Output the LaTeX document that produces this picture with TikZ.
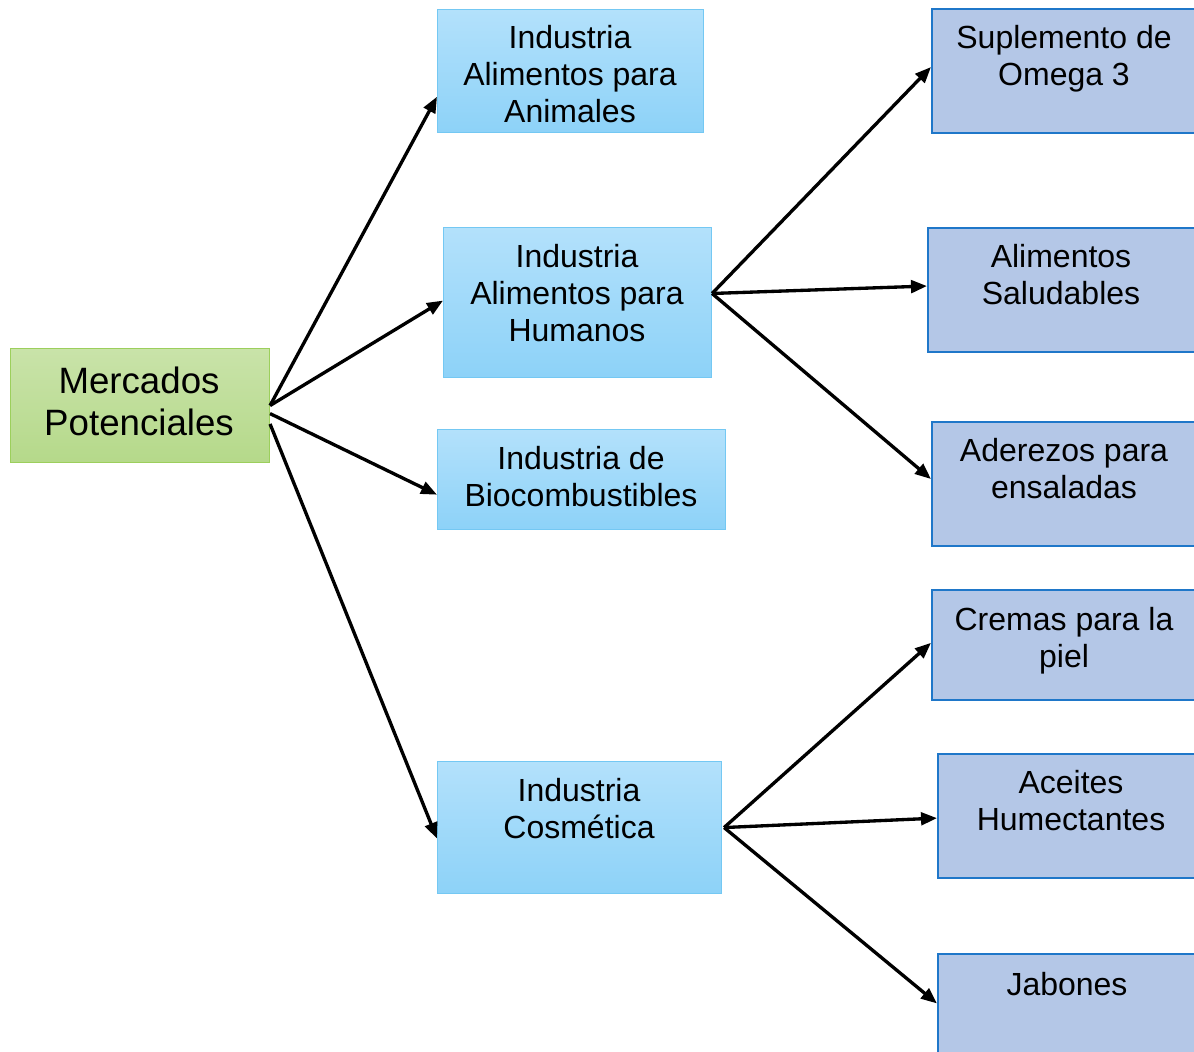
\documentclass[tikz,border=0pt]{standalone}
\usepackage{fontspec}
\setmainfont{Liberation Sans}
\usetikzlibrary{arrows.meta,calc}
\definecolor{grtop}{HTML}{C9E3A9}
\definecolor{grbot}{HTML}{B5D98A}
\definecolor{grline}{HTML}{9CCF5C}
\definecolor{bltop}{HTML}{B3E1FB}
\definecolor{blbot}{HTML}{8DD2F8}
\definecolor{blline}{HTML}{74C8F3}
\definecolor{pbfill}{HTML}{B4C7E7}
\definecolor{pbline}{HTML}{1F77C9}
\tikzset{
  greenbox/.style={draw=grline, line width=0.8pt, top color=grtop, bottom color=grbot, inner sep=0pt, anchor=north west},
  bluebox/.style={draw=blline, line width=0.8pt, top color=bltop, bottom color=blbot, inner sep=0pt, anchor=north west},
  prodbox/.style={draw=pbline, line width=1.6pt, fill=pbfill, inner sep=0pt, anchor=north west},
  txt/.style={align=center, inner sep=0pt, font=\fontsize{24}{27.75}\selectfont},
  bigtxt/.style={align=center, inner sep=0pt, font=\fontsize{27.5}{31.5}\selectfont},
  conn/.style={line width=2.5pt, -{Triangle[length=12pt,width=9.5pt]}}
}
\begin{document}
\begin{tikzpicture}[x=0.75pt,y=-0.75pt]
\clip (0,0) rectangle (1194,1051);
\fill[white] (0,0) rectangle (1194,1051);
% boxes
\node[greenbox, minimum width=259*0.75pt, minimum height=114*0.75pt] (merc) at (10,348) {};
\node[bluebox, minimum width=266*0.75pt, minimum height=123*0.75pt] (anim) at (437,9) {};
\node[bluebox, minimum width=268*0.75pt, minimum height=150*0.75pt] (hum) at (443,227) {};
\node[bluebox, minimum width=288*0.75pt, minimum height=100*0.75pt] (bio) at (437,429) {};
\node[bluebox, minimum width=284*0.75pt, minimum height=132*0.75pt] (cos) at (437,761) {};
\node[prodbox, minimum width=280*0.75pt, minimum height=124*0.75pt] (sup) at (931,8) {};
\node[prodbox, minimum width=284*0.75pt, minimum height=124*0.75pt] (sal) at (927,227) {};
\node[prodbox, minimum width=280*0.75pt, minimum height=124*0.75pt] (ade) at (931,421) {};
\node[prodbox, minimum width=280*0.75pt, minimum height=110*0.75pt] (cre) at (931,589) {};
\node[prodbox, minimum width=274*0.75pt, minimum height=124*0.75pt] (ace) at (937,753) {};
\node[prodbox, minimum width=274*0.75pt, minimum height=124*0.75pt] (jab) at (937,953) {};
% texts
\node[bigtxt] (tmerc) at (139,401) {Mercados\\Potenciales};
\node[txt] (tanim) at (570,74) {Industria\\Alimentos para\\Animales};
\node[txt] (thum) at (577,293) {Industria\\Alimentos para\\Humanos};
\node[txt] (tbio) at (581,477) {Industria de\\Biocombustibles};
\node[txt] (tcos) at (579,809) {Industria\\Cosmética};
\node[txt] (tsup) at (1064,59) {Suplemento de\\Omega 3};
\node[txt] (tsal) at (1061,275) {Alimentos\\Saludables};
\node[txt] (tade) at (1064,469) {Aderezos para\\ensaladas};
\node[txt] (tcre) at (1064,641) {Cremas para la\\piel};
\node[txt] (tace) at (1071,801) {Aceites\\Humectantes};
\node[txt] (tjab) at (1067,984) {Jabones};
% connectors
\draw[conn] ($(merc.north east)!0.50!(merc.south east)$) -- ($(anim.north west)!0.707!(anim.south west)$);
\draw[conn] ($(merc.north east)!0.50!(merc.south east)$) -- ($(hum.north west)!0.487!(hum.south west)$);
\draw[conn] ($(merc.north east)!0.57!(merc.south east)$) -- ($(bio.north west)!0.65!(bio.south west)$);
\draw[conn] ($(merc.north east)!0.66!(merc.south east)$) -- ($(cos.north west)!0.583!(cos.south west)$);
\draw[conn] ($(hum.north east)!0.44!(hum.south east)$) -- ($(sup.north west)!0.468!(sup.south west)$);
\draw[conn] ($(hum.north east)!0.44!(hum.south east)$) -- ($(sal.north west)!0.468!(sal.south west)$);
\draw[conn] ($(hum.north east)!0.44!(hum.south east)$) -- ($(ade.north west)!0.46!(ade.south west)$);
\draw[conn] ($(cos.east)+(2,0)$) -- ($(cre.north west)!0.48!(cre.south west)$);
\draw[conn] ($(cos.east)+(2,0)$) -- ($(ace.north west)!0.516!(ace.south west)$);
\draw[conn] ($(cos.east)+(2,0)$) -- ($(jab.north west)!0.40!(jab.south west)$);
\end{tikzpicture}
\end{document}
